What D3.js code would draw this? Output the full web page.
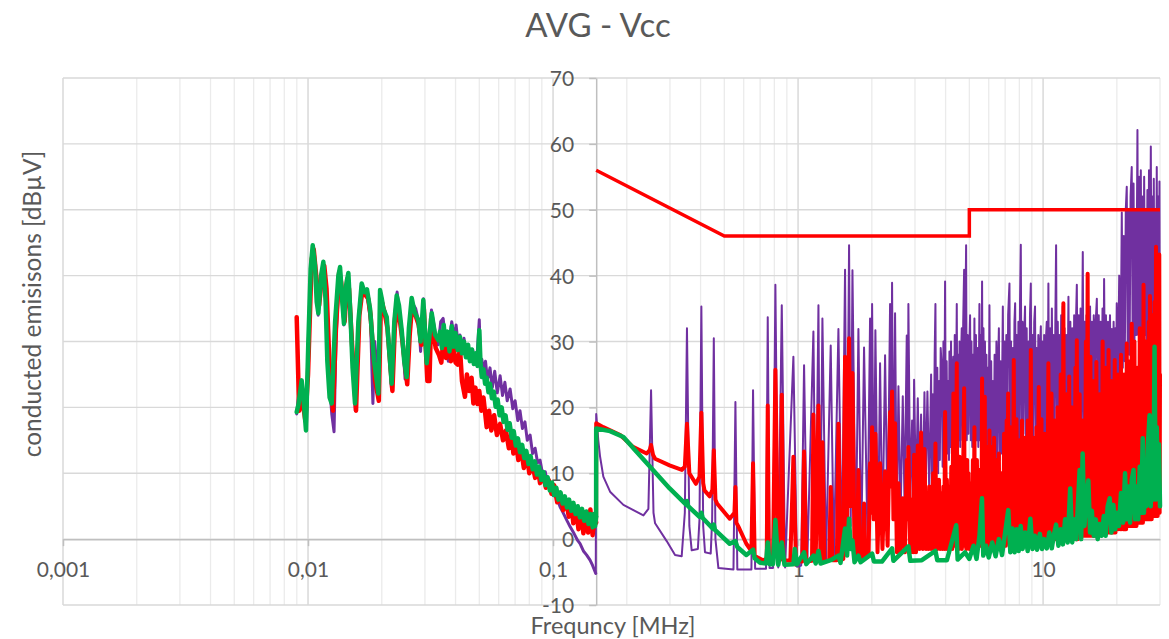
<!DOCTYPE html>
<html><head><meta charset="utf-8">
<script src="https://cdn.jsdelivr.net/npm/d3@7"></script>
<style>body{margin:0;background:#fff}svg{display:block}</style>
</head><body>
<script>
const chartTitle = "AVG - Vcc";
const xTitle = "Frequncy [MHz]";
const yTitle = "conducted emisisons [dBµV]";
const xTickValues = [0.001, 0.01, 0.1, 1, 10];
const xTickLabels = ["0,001", "0,01", "0,1", "1", "10"];
const yTickValues = [-10, 0, 10, 20, 30, 40, 50, 60, 70];

const limitFreq = [0.15, 0.5, 5, 5, 30];
const limitLevel = [56, 46, 46, 50, 50];

// ---- low band (9 kHz - 150 kHz) ----
const purpleLF = [[0.00899,19.0],[0.00915,21.8],[0.00942,23.5],[0.00960,21.0],[0.00985,17.0],[0.01005,30.0],[0.01030,42.0],[0.01048,44.0],[0.01070,41.0],[0.01100,34.0],[0.01130,39.5],[0.01155,42.0],[0.01180,36.5],[0.01215,25.0],[0.01250,19.0],[0.01277,16.3],[0.01300,30.0],[0.01340,40.0],[0.01355,41.0],[0.01400,32.5],[0.01430,38.5],[0.01460,40.0],[0.01500,33.0],[0.01560,19.5],[0.01600,32.0],[0.01650,38.5],[0.01740,37.5],[0.01800,33.0],[0.01840,20.6],[0.01870,30.0],[0.01950,22.8],[0.01975,37.5],[0.02040,35.0],[0.02100,33.5],[0.02190,23.0],[0.02250,33.5],[0.02310,37.5],[0.02410,32.0],[0.02490,24.3],[0.02580,31.5],[0.02650,36.0],[0.02750,35.0],[0.02830,33.0],[0.02880,28.5],[0.02960,36.5],[0.03050,26.5],[0.03120,29.0],[0.03190,34.8],[0.03300,31.5],[0.03400,29.5],[0.03480,33.0],[0.03560,33.5],[0.03650,30.0],[0.03739,27.0],[0.0380,31.0],[0.03860,33.0],[0.0395,30.5],[0.0402,32.5],[0.0410,29.5],[0.0417,31.0],[0.0425,29.0],[0.0433,30.5],[0.0442,28.0],[0.0450,29.5],[0.0460,27.5],[0.0470,28.8],[0.0480,26.5],[0.0490,28.0],[0.0500,33.3],[0.0506,26.5],[0.0512,27.3],[0.0520,25.5],[0.0530,27.0],[0.0540,24.2],[0.0553,26.0],[0.0565,23.0],[0.0578,25.5],[0.0592,22.2],[0.0608,24.8],[0.0622,21.8],[0.0636,23.8],[0.0650,21.0],[0.0668,22.8],[0.0685,19.8],[0.0700,21.0],[0.0718,18.0],[0.0733,19.5],[0.0750,16.8],[0.0768,17.8],[0.0785,15.0],[0.0806,15.8],[0.0825,13.0],[0.0845,13.8],[0.0865,11.6],[0.0885,12.0],[0.0905,10.0],[0.0930,10.2],[0.0950,8.2],[0.0972,8.0],[0.1000,6.6],[0.1030,6.5],[0.1068,4.9],[0.1100,4.0],[0.1140,2.8],[0.1173,1.9],[0.1220,0.8],[0.1260,-0.2],[0.1289,-0.7],[0.1330,-1.8],[0.1370,-2.4],[0.1416,-3.2],[0.1450,-4.0],[0.1494,-5.2]];

const redLF = [[0.00899,33.7],[0.00920,19.5],[0.00945,21.5],[0.00975,18.0],[0.01000,25.0],[0.01035,42.5],[0.01055,44.0],[0.01080,40.0],[0.01110,35.5],[0.01140,40.0],[0.01165,41.5],[0.01190,38.0],[0.01225,26.0],[0.01265,19.5],[0.01300,32.0],[0.01340,40.5],[0.01365,39.0],[0.01410,33.0],[0.01445,39.5],[0.01470,38.0],[0.01510,30.0],[0.01570,19.5],[0.01620,34.0],[0.01670,38.0],[0.01720,37.0],[0.01760,36.5],[0.01800,34.0],[0.01880,24.0],[0.01945,21.0],[0.01985,36.5],[0.02050,34.5],[0.02110,32.0],[0.02210,22.5],[0.02260,32.0],[0.02320,36.0],[0.02420,30.5],[0.02540,23.5],[0.02600,31.0],[0.02660,35.5],[0.02830,32.5],[0.02900,29.5],[0.02970,35.0],[0.03070,24.0],[0.03130,24.0],[0.03180,33.5],[0.03320,29.0],[0.03420,28.0],[0.03500,26.8],[0.0358,31.0],[0.0366,27.5],[0.0374,30.5],[0.0383,27.0],[0.0392,29.5],[0.0400,26.8],[0.0408,26.5],[0.0417,29.0],[0.0425,24.0],[0.0437,21.6],[0.0445,25.0],[0.0455,22.5],[0.0465,24.5],[0.0473,20.6],[0.0482,23.0],[0.0492,20.5],[0.0500,22.5],[0.0510,19.5],[0.0520,21.5],[0.0536,17.0],[0.0548,19.5],[0.0560,16.5],[0.0575,18.8],[0.0590,15.8],[0.0608,17.5],[0.0625,15.0],[0.0642,16.5],[0.0660,13.8],[0.0677,15.8],[0.0689,13.0],[0.0705,14.8],[0.0722,12.0],[0.0740,13.8],[0.0760,10.8],[0.0781,12.8],[0.0800,10.0],[0.0822,11.5],[0.0845,9.3],[0.0867,10.7],[0.0885,8.5],[0.0910,9.8],[0.0935,7.8],[0.0960,9.0],[0.0985,6.9],[0.1010,8.2],[0.1040,5.6],[0.1068,7.0],[0.1100,4.4],[0.1130,5.8],[0.1160,3.4],[0.1190,5.0],[0.1210,2.4],[0.1240,4.6],[0.1270,1.5],[0.1300,4.4],[0.1330,0.9],[0.1360,4.0],[0.1390,1.0],[0.1420,4.5],[0.1450,0.6],[0.1480,3.5],[0.1499,2.5]];

const greenLF = [[0.00899,19.3],[0.00915,20.5],[0.00942,24.1],[0.00955,22.0],[0.00981,16.5],[0.01003,30.0],[0.01025,41.0],[0.01045,44.6],[0.01068,41.5],[0.01085,36.0],[0.01102,34.3],[0.01130,40.0],[0.01155,42.1],[0.01180,36.0],[0.01199,27.0],[0.01225,21.5],[0.01249,20.6],[0.01290,33.0],[0.01330,40.0],[0.01351,41.3],[0.01380,36.0],[0.01402,32.7],[0.01430,38.5],[0.01461,40.4],[0.01490,34.0],[0.01520,26.0],[0.01555,20.6],[0.01605,33.0],[0.01656,38.8],[0.01700,37.5],[0.01740,37.9],[0.01791,35.0],[0.01860,27.0],[0.01937,22.1],[0.01968,37.8],[0.02000,36.5],[0.02030,35.0],[0.02095,33.7],[0.02150,28.0],[0.02195,23.6],[0.02250,33.0],[0.02301,37.0],[0.02350,35.5],[0.02412,31.7],[0.02470,27.0],[0.02527,24.6],[0.02580,32.0],[0.02649,36.6],[0.02720,34.5],[0.02821,33.2],[0.02880,30.0],[0.02955,36.3],[0.03050,26.7],[0.03197,34.3],[0.03300,31.0],[0.03404,30.2],[0.03457,31.5],[0.0352,29.0],[0.0358,32.5],[0.0364,29.5],[0.0371,31.5],[0.0378,28.5],[0.0386,32.3],[0.0393,29.2],[0.0400,31.3],[0.0408,28.7],[0.0417,30.7],[0.0425,28.2],[0.0433,30.0],[0.0441,27.6],[0.0450,29.5],[0.0458,27.0],[0.0466,28.8],[0.0475,26.6],[0.0484,28.2],[0.0492,26.3],[0.0500,31.7],[0.0506,26.5],[0.0512,24.6],[0.0520,25.8],[0.0528,23.6],[0.0536,24.5],[0.0545,22.3],[0.0553,23.6],[0.0563,21.4],[0.0573,22.4],[0.0583,20.1],[0.0594,21.2],[0.0605,18.8],[0.0617,20.0],[0.0628,17.8],[0.0640,18.8],[0.0652,16.6],[0.0665,17.6],[0.0678,15.4],[0.0691,16.4],[0.0705,14.2],[0.0719,15.3],[0.0733,13.2],[0.0748,14.3],[0.0763,12.3],[0.0778,13.4],[0.0794,11.4],[0.0810,12.6],[0.0826,10.6],[0.0843,11.8],[0.0860,9.8],[0.0877,11.0],[0.0895,9.0],[0.0913,10.2],[0.0931,8.2],[0.0950,9.4],[0.0970,7.4],[0.0990,8.6],[0.1010,6.7],[0.1031,7.8],[0.1052,6.0],[0.1073,7.1],[0.1095,5.4],[0.1117,6.5],[0.1140,4.8],[0.1163,6.0],[0.1187,4.3],[0.1211,5.5],[0.1236,3.8],[0.1261,5.0],[0.1287,3.3],[0.1313,4.6],[0.1340,2.8],[0.1367,4.2],[0.1395,2.3],[0.1423,3.8],[0.1452,1.8],[0.1470,3.8],[0.1485,2.0],[0.1499,3.4]];

// ---- high band (150 kHz - 30 MHz) ----
const purpleHF = [[0.1500,19.0],[0.1530,15.0],[0.1556,12.5],[0.1604,9.5],[0.1709,7.2],[0.1937,5.2],[0.2338,3.6],[0.2450,4.6],[0.2512,22.6],[0.2570,4.0],[0.2609,2.4],[0.2910,-0.3],[0.3147,-2.4],[0.3350,-2.6],[0.3450,4.0],[0.3520,32.0],[0.3600,2.0],[0.3680,-1.7],[0.3900,-1.5],[0.3960,3.0],[0.4030,35.3],[0.4100,2.0],[0.4170,-2.0],[0.4400,-2.2],[0.4460,3.0],[0.4530,30.5],[0.4600,0.0],[0.4730,-4.4],[0.5450,-4.6],[0.5550,20.8],[0.5650,-4.6],[0.6450,-4.6],[0.6550,22.6],[0.6680,-4.5],[0.7400,-4.5],[0.7520,33.7],[0.7650,-4.4],[0.7900,-4.4],[0.8080,38.6],[0.8300,-4.3],[0.8580,35.5],[0.8850,-4.3],[0.9570,27.7],[0.9900,-4.2],[1.0300,-4.0],[1.0580,26.4],[1.0900,-3.8],[1.1550,31.5],[1.1800,-2.0],[1.2110,35.5],[1.2300,-3.0],[1.2570,33.5],[1.3000,-3.5],[1.3590,29.4],[1.4000,-3.0],[1.4610,31.9],[1.5100,-2.5],[1.5550,40.9],[1.5800,0.0],[1.6150,44.6],[1.6400,2.0],[1.6670,40.8],[1.7200,-2.5],[1.7630,31.9],[1.8100,-2.0],[1.8590,29.1],[1.9200,0.0],[1.9670,33.5],[1.9850,5.0],[2.0050,35.7],[2.0400,3.0],[2.0680,31.7],[2.1200,-1.0],[2.1610,26.7],[2.2100,0.0],[2.2650,27.9],[2.3200,2.0],[2.3740,35.7],[2.4000,10.0],[2.419,38.9],[2.45,4],[2.488,34.3],[2.53,2],[2.568,23.2],[2.62,3],[2.675,21.7],[2.72,5],[2.777,30.9],[2.80,10],[2.820,35.7],[2.87,6],[2.92,18],[2.95,5],[2.975,24.2],[3.03,6],[3.08,21.4],[3.13,7],[3.177,18.9],[3.23,5],[3.279,22.3],[3.32,8],[3.372,22.4],[3.43,7],[3.491,25.0],[3.52,9],[3.55,22],[3.58,10],[3.61,28],[3.636,35.7],[3.66,11],[3.70,26],[3.73,10],[3.76,24],[3.79,12],[3.82,29],[3.859,26.0],[3.89,11],[3.92,30],[3.95,13],[3.981,39.1],[4.01,12],[4.04,27],[4.07,13],[4.10,24],[4.13,12],[4.147,28.5],[4.18,14],[4.21,30],[4.24,13],[4.27,25],[4.30,27.7],[4.33,14],[4.36,31],[4.40,15],[4.443,35.7],[4.47,14],[4.50,28],[4.53,15],[4.56,30],[4.59,14],[4.62,27],[4.656,32.0],[4.69,15],[4.72,33],[4.761,40.9],[4.79,16],[4.82,34],[4.851,44.6],[4.88,15],[4.92,31],[4.96,16],[5.00,29],[5.035,34.0],[5.07,15],[5.10,30],[5.14,14],[5.17,28],[5.21,15],[5.245,33.5],[5.28,14],[5.32,31],[5.36,15],[5.40,29],[5.44,14],[5.497,35.7],[5.53,15],[5.57,31],[5.60,16],[5.636,39.1],[5.67,15],[5.71,32],[5.75,14],[5.79,30],[5.83,13],[5.87,28],[5.91,14],[5.95,26],[5.99,12],[6.04,35.5],[6.09,12],[6.14,27],[6.19,11],[6.24,24],[6.29,12],[6.34,28],[6.39,11],[6.45,30],[6.50,12],[6.55,26],[6.60,32],[6.65,12],[6.71,27],[6.76,13],[6.85,35.3],[6.90,13],[6.96,30],[7.02,14],[7.08,31],[7.14,13],[7.20,34],[7.29,38.8],[7.34,14],[7.40,30],[7.46,13],[7.52,29],[7.58,15],[7.64,33],[7.69,35.8],[7.75,15],[7.81,31],[7.87,14],[7.93,33],[7.99,15],[8.05,36],[8.11,44.7],[8.17,15],[8.24,33],[8.30,16],[8.37,31],[8.44,35.3],[8.50,14],[8.57,32],[8.64,15],[8.71,30],[8.78,14],[8.84,34],[8.91,38.8],[8.98,14],[9.05,31],[9.12,15],[9.20,33],[9.27,35.3],[9.34,14],[9.41,29],[9.48,13],[9.56,31],[9.63,14],[9.71,29],[9.79,32.3],[9.86,13],[9.94,30],[10.02,14],[10.10,31],[10.18,14],[10.26,30],[10.35,33],[10.43,15],[10.51,38.8],[10.59,15],[10.68,32],[10.77,16],[10.86,35],[10.95,15],[11.04,31],[11.13,16],[11.22,33],[11.30,44.6],[11.39,16],[11.48,33],[11.57,15],[11.66,31],[11.75,16],[11.85,34],[11.94,16],[12.03,35.3],[12.13,16],[12.23,32],[12.33,17],[12.43,31],[12.55,17],[12.69,36.8],[12.80,16],[12.92,33],[13.03,16],[13.15,32],[13.27,17],[13.39,34],[13.50,17],[13.62,33],[13.73,38.6],[13.85,17],[13.97,34],[14.09,18],[14.22,35],[14.35,18],[14.52,43.6],[14.64,18],[14.77,33],[14.90,18],[15.03,34],[15.16,18],[15.29,33],[15.42,19],[15.55,35.3],[15.68,19],[15.82,33],[15.96,19],[16.10,34],[16.24,19],[16.40,33],[16.57,36.5],[16.72,20],[16.87,34],[17.02,20],[17.17,33],[17.32,20],[17.48,35],[17.62,21],[17.74,39.5],[17.90,21],[18.05,34],[18.22,21],[18.40,33],[18.57,21],[18.75,34],[18.90,22],[19.07,31.9],[19.23,22],[19.40,33],[19.55,23],[19.70,32],[19.85,24],[19.98,35.8],[20.20,24],[20.45,40],[20.70,25],[20.95,49.6],[21.15,26],[21.35,46],[21.55,27],[21.75,50],[21.95,53.5],[22.15,28],[22.35,50],[22.55,28],[22.75,52],[23.00,56.5],[23.20,30],[23.40,54],[23.60,30],[23.80,50],[24.00,31],[24.27,62.1],[24.45,31],[24.65,55],[24.85,31],[25.05,56],[25.25,32],[25.45,52],[25.65,31],[25.85,55],[26.05,31],[26.25,50],[26.45,30],[26.65,53],[26.85,31],[27.05,56],[27.25,32],[27.52,59.6],[27.70,32],[27.90,52],[28.10,31],[28.30,54.7],[28.50,31],[28.70,50],[28.90,30],[29.10,56.5],[29.30,31],[29.50,52],[29.70,32],[29.85,54.3],[29.95,34],[30.0,36]];

const redHF = [[0.1500,17.6],[0.1604,17.0],[0.1880,15.8],[0.2120,14.0],[0.2410,13.0],[0.2480,13.5],[0.2512,14.3],[0.2560,12.8],[0.2610,12.2],[0.2990,11.2],[0.3355,10.5],[0.3450,11.0],[0.3520,17.5],[0.3600,10.0],[0.3827,8.4],[0.3960,9.5],[0.4030,19.2],[0.4100,8.5],[0.4150,7.4],[0.4360,6.5],[0.4470,7.5],[0.4530,13.5],[0.4600,6.0],[0.4670,5.4],[0.5260,3.1],[0.5500,4.0],[0.5550,7.9],[0.5600,2.5],[0.5710,1.9],[0.6150,-0.7],[0.6450,-1.8],[0.6550,11.5],[0.6650,-2.6],[0.6780,-2.7],[0.7200,-3.2],[0.7450,-3.0],[0.7520,20.3],[0.7600,-3.2],[0.7900,-3.2],[0.8080,25.7],[0.8300,-3.2],[0.8500,-3.0],[0.8580,21.9],[0.8700,-3.2],[0.9300,-3.3],[0.9570,12.5],[0.9800,-3.3],[1.0400,-3.4],[1.0580,13.3],[1.0800,-3.4],[1.1400,-3.3],[1.1550,18.9],[1.1800,-3.3],[1.2110,20.3],[1.2350,-3.3],[1.2570,14.7],[1.2800,-3.3],[1.3400,-3.2],[1.3590,7.9],[1.3800,-3.2],[1.4400,-3.2],[1.4610,17.5],[1.4900,-3.2],[1.5300,-3.0],[1.5550,27.7],[1.5850,2.0],[1.6150,30.5],[1.6400,5.0],[1.6670,25.2],[1.7000,-2.5],[1.7400,-3.0],[1.7630,10.5],[1.7900,-3.0],[1.8400,-2.8],[1.8590,5.4],[1.8800,-2.8],[1.9400,-2.5],[1.9670,11.5],[1.9850,4.0],[2.0050,17.0],[2.0350,3.0],[2.0680,16.0],[2.1100,-2.0],[2.1610,11.5],[2.2100,-1.5],[2.2650,10.3],[2.3200,-1.0],[2.3740,19.3],[2.3950,8.0],[2.4190,22.4],[2.4500,3.0],[2.4880,17.6],[2.5300,-2.0],[2.5680,8.5],[2.6200,-2.0],[2.6750,6.2],[2.7300,-2.0],[2.7770,12.0],[2.8000,3.0],[2.8200,14.0],[2.8700,-2.0],[2.9200,6.0],[2.9500,-2.0],[2.9750,12.8],[3.0300,-2.0],[3.0800,14.2],[3.1300,-1.5],[3.1770,16.2],[3.2300,-1.5],[3.2790,13.7],[3.3300,-1.5],[3.3720,3.5],[3.4000,-1.5],[3.4300,8.0],[3.4900,-1.5],[3.5300,6.0],[3.5600,10.0],[3.6000,-1.5],[3.6360,14.5],[3.6700,-1.0],[3.7000,-1.5],[3.7600,9.0],[3.8000,-1.5],[3.8300,7.0],[3.8590,4.3],[3.8900,-1.5],[3.9200,8.0],[3.9500,-1.5],[3.9810,19.3],[4.0200,-1.5],[4.0500,9.0],[4.0900,-1.5],[4.1470,7.9],[4.1800,-1.5],[4.2200,11.0],[4.2600,-1.5],[4.3050,22.1],[4.3400,-1.0],[4.3700,12.0],[4.4000,-1.0],[4.4430,26.7],[4.4700,-1.0],[4.5000,9.0],[4.5300,-1.5],[4.5600,12.5],[4.5900,-1.0],[4.6200,10.0],[4.6600,-1.5],[4.7100,8.0],[4.7610,22.9],[4.7900,-1.0],[4.8200,9.0],[4.8600,-1.5],[4.9000,12.0],[4.9300,-1.0],[4.9600,10.0],[5.0000,-1.5],[5.0350,8.5],[5.0700,-1.5],[5.1000,6.0],[5.1300,-1.0],[5.1700,12.0],[5.2100,-1.0],[5.2450,17.0],[5.2700,-1.0],[5.3000,7.0],[5.3400,-1.0],[5.3700,12.0],[5.4100,-1.0],[5.4500,8.0],[5.4970,10.5],[5.5300,-1.0],[5.5600,6.0],[5.6000,-1.0],[5.6360,24.4],[5.6700,-1.0],[5.7000,9.0],[5.7400,-1.0],[5.7800,21.6],[5.8100,-1.0],[5.8500,8.0],[5.8800,-1.0],[5.92,14],[5.95,-1],[5.98,8],[6.01,-1],[6.04,16.5],[6.07,-1],[6.10,9],[6.14,-1],[6.17,14],[6.20,-1],[6.24,8],[6.27,-1],[6.31,15.4],[6.35,-1],[6.38,7],[6.42,-1],[6.45,12],[6.49,-1],[6.52,7],[6.56,-1],[6.60,13],[6.64,-1],[6.68,8],[6.72,-1],[6.76,10],[6.80,-1],[6.85,6],[6.89,-1],[6.93,16],[6.97,-1],[7.01,9],[7.05,-1],[7.10,18],[7.15,-0.5],[7.20,22.1],[7.25,-0.5],[7.29,9],[7.33,-1],[7.38,17],[7.43,-0.5],[7.48,10],[7.53,-0.5],[7.59,27.2],[7.64,-0.5],[7.69,10],[7.74,-0.5],[7.79,18.2],[7.85,-0.5],[7.90,9],[7.95,-0.5],[8.00,15],[8.05,-0.5],[8.11,10],[8.15,-0.5],[8.20,18],[8.25,-0.5],[8.30,9],[8.37,-0.5],[8.44,15.4],[8.50,-0.5],[8.55,8],[8.60,-0.5],[8.66,18],[8.72,-0.5],[8.78,10],[8.84,-0.5],[8.91,28.7],[8.97,-0.5],[9.03,10],[9.09,-0.5],[9.15,15.4],[9.21,-0.5],[9.27,9],[9.33,-0.5],[9.40,17],[9.47,-0.5],[9.53,11],[9.60,23.1],[9.66,-0.5],[9.72,10],[9.78,-0.5],[9.85,18.2],[9.91,-0.5],[9.98,11],[10.06,0],[10.15,16],[10.22,0],[10.30,12],[10.40,0],[10.51,26.7],[10.58,0],[10.66,12],[10.74,0],[10.82,22.1],[10.90,0],[10.98,12],[11.06,0],[11.14,18],[11.22,0],[11.30,13],[11.38,0],[11.46,20],[11.55,0],[11.63,12],[11.71,0],[11.80,25],[11.88,0],[11.95,14],[12.02,0],[12.10,35.8],[12.19,0],[12.28,13],[12.36,0],[12.45,22],[12.52,0],[12.60,13],[12.69,0],[12.78,24.7],[12.86,0],[12.95,14],[13.05,0],[13.15,20],[13.25,0],[13.35,13],[13.45,0],[13.55,26],[13.64,0],[13.73,30.2],[13.82,0],[13.92,14],[14.00,0.5],[14.10,22],[14.20,0.5],[14.30,15],[14.40,0.5],[14.50,18],[14.60,0.5],[14.70,14],[14.82,0.5],[14.95,30],[15.07,0.5],[15.20,40.3],[15.30,0.5],[15.40,15],[15.50,0.5],[15.60,27.7],[15.70,0.5],[15.80,16],[15.90,0.5],[16.00,24],[16.12,0.5],[16.25,15],[16.37,0.5],[16.50,26.9],[16.62,0.5],[16.75,16],[16.87,0.5],[17.00,22],[17.12,1],[17.25,16],[17.37,1],[17.50,30],[17.62,1],[17.75,17],[17.87,1],[18.00,26],[18.12,1],[18.25,17],[18.37,1],[18.50,28.7],[18.62,1],[18.75,18],[18.87,1],[19.00,24],[19.15,1],[19.30,17],[19.45,1],[19.60,27.2],[19.75,1],[19.90,18],[20.05,1.5],[20.20,25],[20.35,1.5],[20.50,18],[20.65,1.5],[20.80,28],[20.95,1.5],[21.10,19],[21.25,1.5],[21.40,25],[21.55,1.5],[21.70,19],[21.82,1.5],[21.95,29.7],[22.10,2],[22.25,20],[22.42,2],[22.60,27],[22.80,2],[23.00,32.7],[23.15,2],[23.30,20],[23.45,2],[23.60,30],[23.75,2],[23.90,21],[24.05,2],[24.20,26],[24.35,2.5],[24.50,21],[24.65,2.5],[24.80,32],[24.95,2.5],[25.10,22],[25.25,2.5],[25.40,30],[25.55,2.5],[25.70,38.6],[25.85,3],[26.00,22],[26.15,3],[26.30,30],[26.45,3],[26.60,23],[26.80,3],[27.00,33],[27.15,3],[27.30,36.9],[27.45,3],[27.60,24],[27.75,3],[27.90,34],[28.05,3.5],[28.20,25],[28.35,3.5],[28.50,36],[28.70,3.5],[28.90,44.4],[29.05,3.5],[29.20,28],[29.35,3.5],[29.50,40],[29.65,4],[29.80,43.2],[29.90,4],[30.00,25]];

const greenHF = [[0.1500,16.8],[0.1709,16.4],[0.1937,15.5],[0.2187,13.3],[0.2558,10.5],[0.2992,7.7],[0.3500,5.2],[0.3520,5.8],[0.3560,5.0],[0.3960,3.4],[0.4030,4.0],[0.4080,3.2],[0.4490,1.6],[0.4530,2.2],[0.4580,1.4],[0.5260,-0.7],[0.5550,-0.3],[0.5650,-1.2],[0.6150,-2.4],[0.6550,-1.6],[0.6650,-2.9],[0.7000,-3.6],[0.7400,-3.7],[0.7520,-0.5],[0.7650,-3.8],[0.7900,-3.8],[0.8080,2.9],[0.8300,-3.9],[0.8580,-0.5],[0.8800,-3.9],[0.9570,-3.8],[0.9700,-1.5],[0.9900,-3.8],[1.0580,-2.0],[1.0800,-3.8],[1.1550,-2.5],[1.1800,-3.7],[1.2110,-1.8],[1.2350,-3.7],[1.3590,-3.2],[1.4610,-2.5],[1.4900,-3.6],[1.5550,1.6],[1.5850,-2.5],[1.6150,3.1],[1.6400,-1.5],[1.6670,-0.2],[1.7000,-3.5],[1.7630,-2.5],[1.8000,-3.5],[2.0050,-2.2],[2.0400,-3.4],[2.2000,-3.4],[2.4190,-1.4],[2.4500,-3.3],[2.8200,-1.1],[2.8700,-3.3],[3.2000,-3.2],[3.6360,-1.8],[3.7000,-3.2],[4.0500,-3.2],[4.4200,2.1],[4.4800,-3.1],[4.8000,-2.0],[5.0,-3.0],[5.20,-1.0],[5.35,-3.0],[5.50,0.5],[5.63,6.2],[5.70,-2.5],[5.85,-1.0],[6.00,-2.8],[6.20,-0.5],[6.40,-2.6],[6.60,0.0],[6.80,-2.4],[7.00,1.0],[7.21,4.4],[7.35,-2.0],[7.50,1.6],[7.65,-2.0],[7.80,1.5],[7.95,-1.8],[8.10,2.0],[8.25,-1.5],[8.45,1.0],[8.65,-1.8],[8.87,3.1],[9.05,-1.5],[9.25,0.5],[9.45,-1.6],[9.70,0.8],[9.90,-1.5],[10.10,0.0],[10.35,-1.4],[10.60,1.0],[10.85,-1.4],[11.05,0.5],[11.30,2.2],[11.55,-1.0],[11.80,1.5],[12.05,-0.8],[12.30,3.0],[12.60,-0.5],[12.90,7.7],[13.15,-0.5],[13.40,3.0],[13.65,0.0],[13.90,6.0],[14.10,10.5],[14.30,0.0],[14.50,13.0],[14.75,2.0],[15.00,6.0],[15.30,8.9],[15.55,1.0],[15.80,4.3],[16.10,0.5],[16.40,3.0],[16.70,0.0],[17.00,2.3],[17.35,0.5],[17.70,3.5],[18.00,0.5],[18.35,5.0],[18.70,6.2],[19.00,1.0],[19.35,5.2],[19.70,1.5],[20.00,4.0],[20.40,2.0],[20.80,7.0],[21.20,2.5],[21.60,10.0],[21.95,3.0],[22.30,8.0],[22.65,2.5],[23.00,9.0],[23.40,10.5],[23.75,3.0],[24.10,8.0],[24.45,3.0],[24.80,11.0],[25.15,4.0],[25.50,15.3],[25.80,4.0],[26.10,12.0],[26.40,5.0],[26.75,14.0],[27.20,18.8],[27.50,5.0],[27.85,16.0],[28.20,6.0],[28.50,29.2],[28.80,6.0],[29.10,17.0],[29.40,7.0],[29.70,14.4],[30.00,5.0]];

// ---------------- drawing ----------------
const W = 1169, H = 639;
const FONT = "Lato, 'Open Sans', sans-serif";
const TXT = "#595959";
const x = d3.scaleLog().domain([0.001, 30]).range([63, 1160]);
const y = d3.scaleLinear().domain([-10, 70]).range([605, 78]);

const svg = d3.select("body").append("svg").attr("width", W).attr("height", H);
svg.append("rect").attr("width", W).attr("height", H).attr("fill", "#fff");

const minorTicks = [];
xTickValues.forEach(d => { for (let k = 2; k <= 9; k++) { const v = +(k * d).toPrecision(3); if (v <= 30) minorTicks.push(v); } });

svg.append("g").selectAll("line").data(minorTicks).join("line")
  .attr("x1", d => x(d)).attr("x2", d => x(d)).attr("y1", y(70)).attr("y2", y(-10))
  .attr("stroke", "#ebebeb").attr("stroke-width", 1.3);
svg.append("g").selectAll("line").data(yTickValues).join("line")
  .attr("x1", x(0.001)).attr("x2", x(30)).attr("y1", d => y(d)).attr("y2", d => y(d))
  .attr("stroke", "#d9d9d9").attr("stroke-width", 1.3);
svg.append("g").selectAll("line").data(xTickValues).join("line")
  .attr("x1", d => x(d)).attr("x2", d => x(d)).attr("y1", y(70)).attr("y2", y(-10))
  .attr("stroke", "#d9d9d9").attr("stroke-width", 1.5);

// x axis (crosses at 0)
const gx = svg.append("g").attr("transform", `translate(0,${y(0)})`)
  .call(d3.axisBottom(x).tickValues(xTickValues).tickSize(7).tickSizeOuter(0).tickFormat((d, i) => xTickLabels[i]));
gx.select(".domain").attr("stroke", "#bfbfbf").attr("stroke-width", 1.5);
gx.selectAll(".tick line").attr("stroke", "#bfbfbf").attr("stroke-width", 1.5);
gx.selectAll("text").attr("y", 38).attr("dy", 0).attr("font-family", FONT).attr("font-size", 21).attr("fill", TXT);

// y axis (crosses at 0.15 MHz)
const gy = svg.append("g").attr("transform", `translate(${x(0.15)},0)`)
  .call(d3.axisLeft(y).tickValues(yTickValues).tickSize(7).tickSizeOuter(0).tickPadding(15).tickFormat(d => String(d)));
gy.select(".domain").attr("stroke", "#bfbfbf").attr("stroke-width", 1.5);
gy.selectAll(".tick line").attr("stroke", "#bfbfbf").attr("stroke-width", 1.5);
gy.selectAll("text").attr("dy", "0.36em").attr("font-family", FONT).attr("font-size", 21).attr("fill", TXT);

// titles
svg.append("text").attr("x", 598).attr("y", 37).attr("text-anchor", "middle")
  .attr("font-family", FONT).attr("font-size", 33).attr("fill", TXT).text(chartTitle);
svg.append("text").attr("x", 613).attr("y", 634).attr("text-anchor", "middle")
  .attr("font-family", FONT).attr("font-size", 23.5).attr("fill", TXT).text(xTitle);
svg.append("text").attr("transform", "translate(41,304) rotate(-90)").attr("text-anchor", "middle")
  .attr("font-family", FONT).attr("font-size", 24.5).attr("fill", TXT).text(yTitle);

// series
const line = d3.line().x(d => x(d[0])).y(d => y(d[1]));
function draw(data, color, w) {
  svg.append("path").attr("d", line(data)).attr("fill", "none").attr("stroke", color)
    .attr("stroke-width", w).attr("stroke-linejoin", "round").attr("stroke-linecap", "round");
}
const PURPLE = "#7030a0", RED = "#ff0000", GREEN = "#00b050";
draw(purpleLF, PURPLE, 3);
draw([purpleLF[purpleLF.length - 1], ...purpleHF], PURPLE, 2);
draw(redLF, RED, 4.5);
draw([redLF[redLF.length - 1], ...redHF], RED, 4);
draw(greenLF, GREEN, 4.5);
draw([greenLF[greenLF.length - 1], ...greenHF], GREEN, 4.5);

const limit = limitFreq.map((f, i) => [f, limitLevel[i]]);
svg.append("path").attr("d", line(limit)).attr("fill", "none").attr("stroke", RED)
  .attr("stroke-width", 3.5).attr("stroke-linejoin", "miter");
</script>
</body></html>
